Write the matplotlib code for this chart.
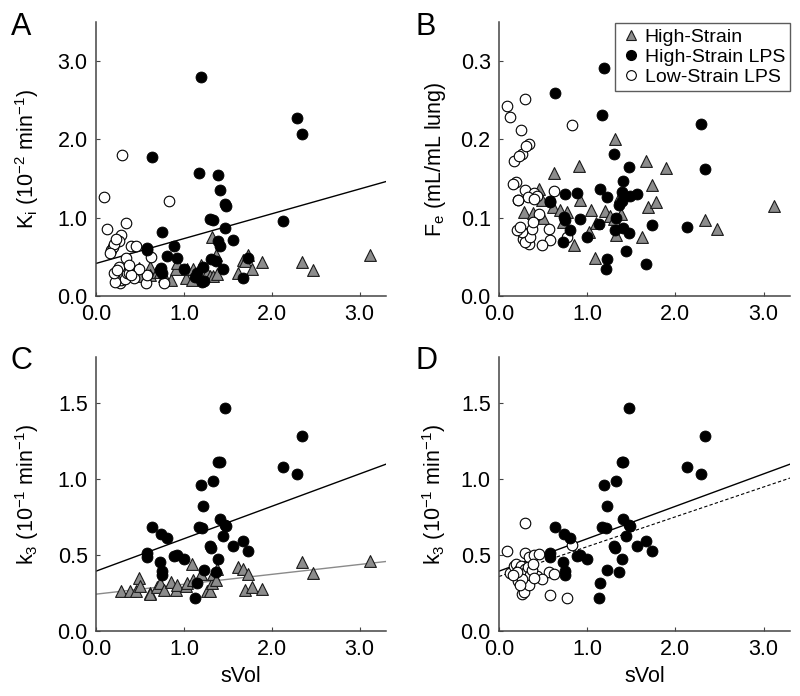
import numpy as np
import matplotlib
matplotlib.use("Agg")
import matplotlib.pyplot as plt
from matplotlib.lines import Line2D

plt.rcParams['font.family'] = ['Liberation Sans', 'DejaVu Sans']
plt.rcParams['mathtext.fontset'] = 'custom'
plt.rcParams['mathtext.rm'] = 'Liberation Sans'
plt.rcParams['mathtext.it'] = 'Liberation Sans'

# High-Strain (grey triangles)
hs_x = [0.28, 0.39, 0.45, 0.49, 0.50, 0.61, 0.62, 0.69, 0.73, 0.77, 0.85, 0.91, 0.92,
        1.02, 1.04, 1.09, 1.10, 1.20, 1.26, 1.30, 1.32, 1.33, 1.37, 1.38, 1.62, 1.67,
        1.73, 1.69, 1.78, 1.89, 2.34, 2.47, 3.12]
hs_ki = [0.30, 0.28, 0.32, 0.36, 0.26, 0.37, 0.27, 0.31, 0.31, 0.25, 0.20, 0.35, 0.42,
         0.23, 0.34, 0.20, 0.35, 0.39, 0.29, 0.25, 0.76, 0.25, 0.52, 0.28, 0.29, 0.46,
         0.53, 0.45, 0.34, 0.44, 0.43, 0.33, 0.53]
hs_fe = [0.107, 0.106, 0.137, 0.123, 0.100, 0.114, 0.157, 0.110, 0.095, 0.107, 0.065,
         0.166, 0.122, 0.082, 0.110, 0.049, 0.093, 0.109, 0.102, 0.099, 0.200, 0.078,
         0.128, 0.105, 0.075, 0.173, 0.142, 0.114, 0.120, 0.163, 0.097, 0.086, 0.115]
hs_k3 = [0.262, 0.266, 0.262, 0.349, 0.293, 0.249, 0.245, 0.288, 0.314, 0.270, 0.321,
         0.270, 0.300, 0.293, 0.314, 0.437, 0.332, 0.375, 0.266, 0.266, 0.314, 0.375,
         0.332, 0.408, 0.419, 0.408, 0.375, 0.270, 0.288, 0.275, 0.456, 0.380, 0.459]

# High-Strain LPS (black circles)
hsl_x = [1.47, 2.34, 2.13, 2.29, 1.39, 1.41, 1.19, 1.33, 1.22, 0.64, 0.74, 0.81, 1.17,
         1.21, 1.41, 1.47, 1.48, 1.44, 1.56, 1.30, 1.31, 1.67, 1.73, 0.58, 0.58, 0.73,
         0.89, 0.92, 1.00, 1.39, 0.75, 0.75, 1.23, 1.36, 1.15, 1.13]
hsl_ki = [1.17, 2.07, 0.954, 2.27, 1.54, 1.36, 2.80, 0.975, 0.37, 1.77, 0.36, 0.513,
          1.57, 0.18, 0.64, 0.874, 1.15, 0.35, 0.717, 0.99, 0.467, 0.233, 0.48, 0.61,
          0.585, 0.33, 0.645, 0.48, 0.35, 0.70, 0.823, 0.30, 0.195, 0.45, 0.29, 0.246]
hsl_fe = [0.080, 0.162, 0.088, 0.220, 0.121, 0.147, 0.291, 0.100, 0.047, 0.259, 0.101,
          0.084, 0.231, 0.035, 0.087, 0.165, 0.128, 0.058, 0.130, 0.182, 0.084, 0.041,
          0.091, 0.121, 0.120, 0.069, 0.131, 0.098, 0.075, 0.133, 0.130, 0.097, 0.126,
          0.116, 0.137, 0.0925]
hsl_k3 = [1.463, 1.284, 1.079, 1.031, 1.11, 1.11, 0.961, 0.983, 0.819, 0.686, 0.640,
          0.611, 0.686, 0.677, 0.738, 0.699, 0.69, 0.624, 0.561, 0.561, 0.548, 0.592,
          0.526, 0.511, 0.485, 0.456, 0.493, 0.496, 0.474, 0.476, 0.393, 0.371, 0.402,
          0.389, 0.317, 0.216]

# Low-Strain LPS (open circles)
lsl_x = [0.095, 0.125, 0.30, 0.29, 0.345, 0.40, 0.45, 0.83, 0.26, 0.28, 0.34, 0.57,
         0.625, 0.58, 0.77, 0.436, 0.485, 0.17, 0.19, 0.21, 0.23, 0.25, 0.27, 0.29,
         0.31, 0.33, 0.35, 0.37, 0.40, 0.22, 0.26, 0.20, 0.16, 0.38, 0.24]
lsl_ki = [1.27, 0.857, 1.80, 0.78, 0.93, 0.636, 0.636, 1.21, 0.70, 0.33, 0.48, 0.16,
          0.50, 0.27, 0.16, 0.225, 0.34, 0.594, 0.62, 0.67, 0.725, 0.29, 0.16, 0.20,
          0.30, 0.22, 0.29, 0.29, 0.27, 0.18, 0.37, 0.29, 0.555, 0.40, 0.33]
lsl_fe = [0.243, 0.229, 0.252, 0.136, 0.194, 0.131, 0.105, 0.218, 0.181, 0.080, 0.067,
          0.086, 0.134, 0.071, 0.075, 0.128, 0.065, 0.173, 0.146, 0.123, 0.179, 0.212,
          0.073, 0.069, 0.192, 0.126, 0.075, 0.086, 0.124, 0.122, 0.082, 0.084, 0.143,
          0.095, 0.088]
lsl_k3 = [0.524, 0.38, 0.712, 0.515, 0.489, 0.502, 0.507, 0.566, 0.245, 0.255, 0.30,
          0.386, 0.376, 0.238, 0.218, 0.358, 0.343, 0.43, 0.44, 0.37, 0.40, 0.43, 0.36,
          0.41, 0.39, 0.42, 0.37, 0.40, 0.35, 0.33, 0.34, 0.39, 0.37, 0.44, 0.30]

# regression lines (slope, intercept)
fit_a = (0.317, 0.416)
fit_c_hsl = (0.213, 0.393)
fit_c_hs = (0.065, 0.242)
fit_d_solid = (0.213, 0.393)
fit_d_dash = (0.196, 0.358)

XMAX = 3.3
SPINE = '#444444'
FS = 15.5

tri = dict(marker='^', s=72, facecolor='#8c8c8c', edgecolor='#1a1a1a', linewidths=0.8)
blk = dict(marker='o', s=62, facecolor='black', edgecolor='black', linewidths=0.6)
opn = dict(marker='o', s=58, facecolor='white', edgecolor='black', linewidths=0.8)


def style_axes(ax, ymax, yticks, yfmt):
    ax.set_xlim(0, XMAX)
    ax.set_ylim(0, ymax)
    ax.set_xticks([0, 1, 2, 3])
    ax.set_xticklabels(['0.0', '1.0', '2.0', '3.0'])
    ax.set_yticks(yticks)
    ax.set_yticklabels([yfmt.format(v) for v in yticks])
    for s in ['top', 'right']:
        ax.spines[s].set_visible(False)
    for s in ['left', 'bottom']:
        ax.spines[s].set_color(SPINE)
        ax.spines[s].set_linewidth(1.1)
    ax.tick_params(direction='in', length=3, width=0.8, color=SPINE,
                   labelsize=FS, pad=6)


def fit_line(ax, fit, **kw):
    xs = np.array([0, XMAX])
    ax.plot(xs, fit[0] * xs + fit[1], **kw)


fig = plt.figure(figsize=(8, 6.96), dpi=100)
axA = fig.add_axes([0.12, 0.5747, 0.3625, 0.3937])
axB = fig.add_axes([0.62375, 0.5747, 0.3638, 0.3937])
axC = fig.add_axes([0.12, 0.0934, 0.3625, 0.3937])
axD = fig.add_axes([0.62375, 0.0934, 0.3638, 0.3937])

# A
axA.scatter(hs_x, hs_ki, zorder=3, **tri)
axA.scatter(lsl_x, lsl_ki, zorder=3, **opn)
axA.scatter(hsl_x, hsl_ki, zorder=4, **blk)
fit_line(axA, fit_a, color='black', lw=1.0, zorder=2)
style_axes(axA, 3.5, [0, 1, 2, 3], '{:.1f}')
axA.set_ylabel(r'K$_\mathrm{i}$ (10$^\mathrm{-2}$ min$^\mathrm{-1}$)', fontsize=FS)
axA.yaxis.set_label_coords(-0.19, 0.5)

# B
axB.scatter(hs_x, hs_fe, zorder=3, **tri)
axB.scatter(lsl_x, lsl_fe, zorder=3, **opn)
axB.scatter(hsl_x, hsl_fe, zorder=4, **blk)
style_axes(axB, 0.35, [0, 0.1, 0.2, 0.3], '{:.1f}')
axB.set_ylabel(r'F$_\mathrm{e}$ (mL/mL lung)', fontsize=FS)
axB.yaxis.set_label_coords(-0.175, 0.5)

handles = [
    Line2D([], [], ls='none', marker='^', ms=7, mfc='#8c8c8c', mec='#1a1a1a', mew=0.8),
    Line2D([], [], ls='none', marker='o', ms=7, mfc='black', mec='black'),
    Line2D([], [], ls='none', marker='o', ms=7, mfc='white', mec='black', mew=0.8),
]
leg = axB.legend(handles, ['High-Strain', 'High-Strain LPS', 'Low-Strain LPS'],
                 loc='upper right', bbox_to_anchor=(1.0, 0.995), fontsize=14,
                 frameon=True, fancybox=False, borderpad=0.25, handletextpad=0.1,
                 handlelength=1.2, labelspacing=0.12, borderaxespad=0.0)
leg.get_frame().set_edgecolor('#333333')
leg.get_frame().set_linewidth(1.0)

# C
axC.scatter(hs_x, hs_k3, zorder=3, **tri)
axC.scatter(hsl_x, hsl_k3, zorder=4, **blk)
fit_line(axC, fit_c_hsl, color='black', lw=1.0, zorder=2)
fit_line(axC, fit_c_hs, color='#8a8a8a', lw=1.0, zorder=2)
style_axes(axC, 1.8, [0, 0.5, 1.0, 1.5], '{:.1f}')
axC.set_ylabel(r'k$_\mathrm{3}$ (10$^\mathrm{-1}$ min$^\mathrm{-1}$)', fontsize=FS)
axC.yaxis.set_label_coords(-0.19, 0.5)
axC.set_xlabel('sVol', fontsize=FS, labelpad=4)

# D
axD.scatter(lsl_x, lsl_k3, zorder=3, **opn)
axD.scatter(hsl_x, hsl_k3, zorder=4, **blk)
fit_line(axD, fit_d_solid, color='black', lw=1.0, zorder=2)
fit_line(axD, fit_d_dash, color='black', lw=0.8, ls=(0, (3, 2)), zorder=2)
style_axes(axD, 1.8, [0, 0.5, 1.0, 1.5], '{:.1f}')
axD.set_ylabel(r'k$_\mathrm{3}$ (10$^\mathrm{-1}$ min$^\mathrm{-1}$)', fontsize=FS)
axD.yaxis.set_label_coords(-0.175, 0.5)
axD.set_xlabel('sVol', fontsize=FS, labelpad=4)

# panel letters
for lbl, x, y in [('A', 11, 12), ('B', 416, 12), ('C', 11, 346), ('D', 416, 346)]:
    fig.text(x / 800, 1 - y / 696, lbl, fontsize=22, ha='left', va='top')

fig.savefig('out.png', dpi=100)
